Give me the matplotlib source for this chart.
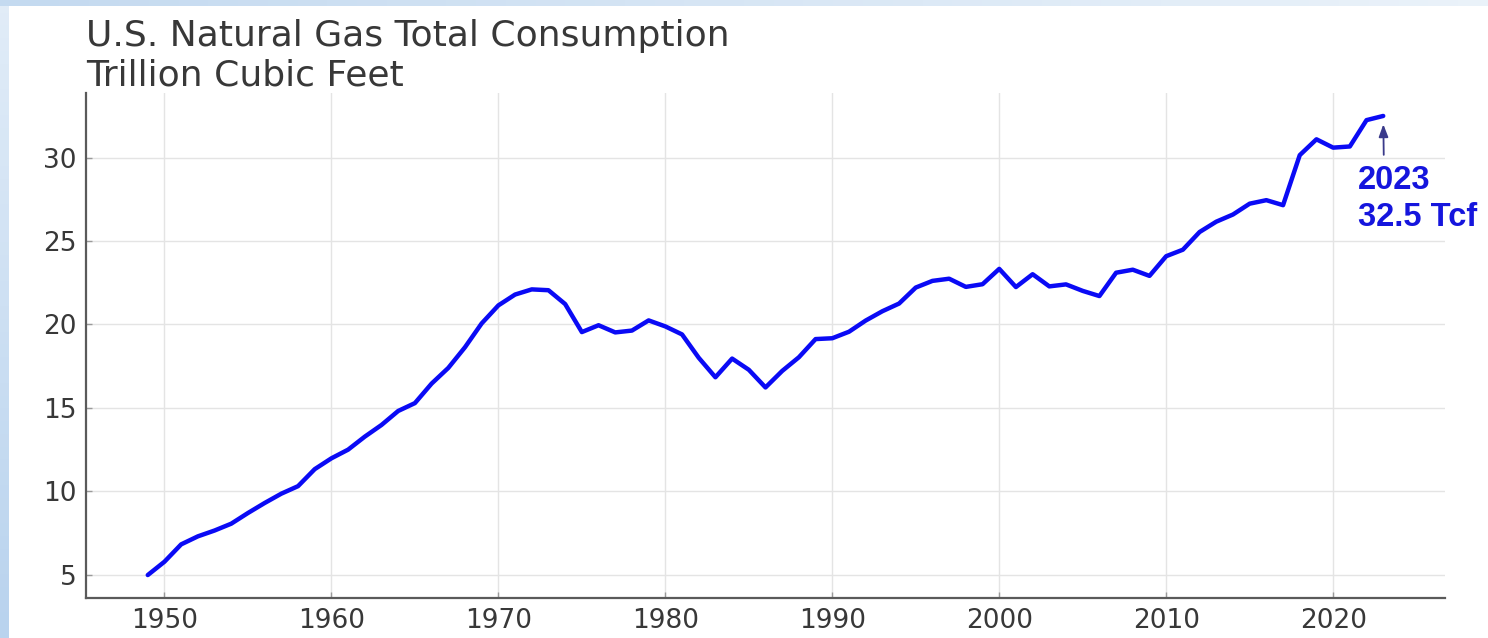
import matplotlib
matplotlib.use("Agg")
import matplotlib.pyplot as plt
import numpy as np

years = list(range(1949, 2024))
consumption = [
    4.97, 5.77, 6.81, 7.29, 7.64, 8.05, 8.69, 9.29, 9.85, 10.30,
    11.32, 11.97, 12.49, 13.27, 13.97, 14.81, 15.28, 16.45, 17.39, 18.63,
    20.06, 21.14, 21.79, 22.10, 22.05, 21.22, 19.54, 19.95, 19.52, 19.63,
    20.24, 19.88, 19.40, 18.00, 16.83, 17.95, 17.28, 16.22, 17.21, 18.03,
    19.12, 19.17, 19.56, 20.23, 20.79, 21.25, 22.21, 22.61, 22.74, 22.25,
    22.41, 23.33, 22.24, 23.01, 22.28, 22.40, 22.01, 21.70, 23.10, 23.28,
    22.91, 24.09, 24.48, 25.54, 26.16, 26.59, 27.24, 27.45, 27.15, 30.15,
    31.10, 30.60, 30.67, 32.25, 32.5,
]
title_lines = ["U.S. Natural Gas Total Consumption", "Trillion Cubic Feet"]
x_ticks = [1950, 1960, 1970, 1980, 1990, 2000, 2010, 2020]
y_ticks = [5, 10, 15, 20, 25, 30]

W, H = 1488, 638
fig = plt.figure(figsize=(W / 100, H / 100), dpi=100)
fig.patch.set_facecolor("white")

# light blue slide frame on the left and top edges
cm_l = matplotlib.colors.LinearSegmentedColormap.from_list("b", ["#f2f7fc", "#b9d3ee"])
ax_bg_l = fig.add_axes([0, 0, 9 / W, 1])
ax_bg_l.imshow(np.linspace(0.3, 1, 50).reshape(-1, 1), cmap=cm_l,
               aspect="auto", extent=[0, 1, 0, 1], vmin=0, vmax=1)
ax_bg_l.axis("off")
cm_t = matplotlib.colors.LinearSegmentedColormap.from_list("b2", ["#f4f8fc", "#c4daf0"])
ax_bg_t = fig.add_axes([0, 1 - 6 / H, 1, 6 / H])
ax_bg_t.imshow(np.linspace(1, 0.2, 50).reshape(1, -1), cmap=cm_t,
               aspect="auto", extent=[0, 1, 0, 1], vmin=0, vmax=1)
ax_bg_t.axis("off")

ax = fig.add_axes([86 / W, (H - 598) / H, (1445 - 86) / W, (598 - 93) / H])
ax.plot(years, consumption, color="#0a0af5", lw=3.2, solid_capstyle="round", solid_joinstyle="round")

ax.set_xticks(x_ticks)
ax.set_yticks(y_ticks)
ax.grid(True, color="#e4e4e4", lw=1.0)
ax.set_axisbelow(True)
for s in ["top", "right"]:
    ax.spines[s].set_visible(False)
for s in ["left", "bottom"]:
    ax.spines[s].set_color("#5a5a5a")
    ax.spines[s].set_linewidth(1.6)
ax.tick_params(axis="both", direction="in", length=4, width=1, color="#9a9a9a",
               labelsize=19, labelcolor="#383838", pad=7)

ax.set_title("\n".join(title_lines), loc="left", fontsize=26, color="#383838",
             pad=3, linespacing=1.22, x=0.0)

ax.annotate(f"{years[-1]}\n{consumption[-1]} Tcf",
            xy=(years[-1], consumption[-1]), xytext=(-18, -35),
            textcoords="offset points", ha="left", va="top",
            fontsize=23.5, fontweight="bold", color="#1515dd",
            family=["Liberation Sans", "DejaVu Sans"], linespacing=1.25,
            arrowprops=dict(arrowstyle="-|>,head_width=0.12,head_length=0.32",
                            color="#3a3a8a", lw=1.3,
                            relpos=(0.215, 1.0), shrinkA=5, shrinkB=6))

fig.savefig("out.png", dpi=100, facecolor=fig.get_facecolor())
